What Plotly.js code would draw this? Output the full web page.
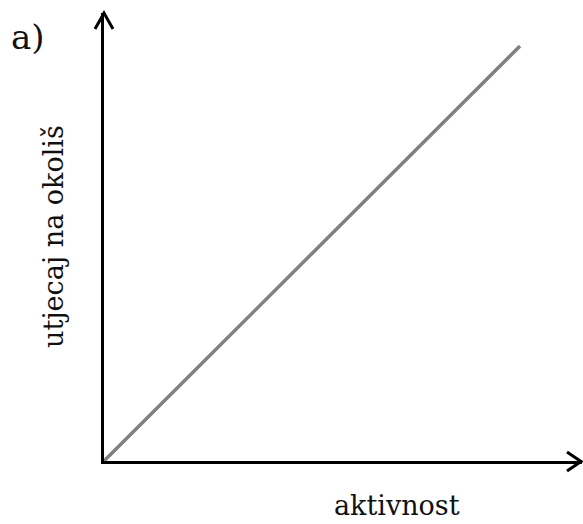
<!DOCTYPE html>
<html><head><meta charset="utf-8">
<script src="https://cdn.plot.ly/plotly-3.0.1.min.js"></script>
<style>html,body{margin:0;padding:0;background:#fff;}</style>
</head><body>
<div id="chart" style="width:583px;height:524px;"></div>
<script>
const activity = [0, 1];
const impact = [0, 1];
const xLabel = "aktivnost";
const yLabel = "utjecaj na okoliš";
const panelLabel = "a)";

const W = 583, H = 524;
const L = 104, R = 1, T = 13, B = 63;
const pw = W - L - R, ph = H - T - B;
const px = x => (x - L) / pw;
const py = y => (H - B - y) / ph;

const font = {family: "'DejaVu Serif', serif", size: 27, color: "#111"};

const trace = {
  x: activity, y: impact, mode: "lines", type: "scatter",
  line: {color: "#808080", width: 3.5}, hoverinfo: "skip"
};

const layout = {
  width: W, height: H,
  margin: {l: L, r: R, t: T, b: B, pad: 0},
  paper_bgcolor: "#fff", plot_bgcolor: "#fff",
  showlegend: false,
  xaxis: {range: [0, pw / 416], showgrid: false, zeroline: false, showticklabels: false,
          ticks: "", showline: true, linecolor: "#000", linewidth: 3, fixedrange: true},
  yaxis: {range: [0, ph / 415], showgrid: false, zeroline: false, showticklabels: false,
          ticks: "", showline: true, linecolor: "#000", linewidth: 3, fixedrange: true},
  shapes: [
    {type: "path", xref: "paper", yref: "paper",
     path: `M ${px(95)},${py(29)} L ${px(104)},${py(13)} L ${px(113)},${py(29)}`,
     line: {color: "#000", width: 3}},
    {type: "path", xref: "paper", yref: "paper",
     path: `M ${px(567)},${py(452)} L ${px(581)},${py(461.5)} L ${px(567)},${py(471)}`,
     line: {color: "#000", width: 3}}
  ],
  annotations: [
    {text: panelLabel, xref: "paper", yref: "paper", x: px(28), y: py(37),
     xanchor: "center", yanchor: "middle", showarrow: false,
     font: Object.assign({}, font, {size: 34})},
    {text: yLabel, xref: "paper", yref: "paper", x: px(53), y: py(237), textangle: -90,
     xanchor: "center", yanchor: "middle", showarrow: false, font: font},
    {text: xLabel, xref: "paper", yref: "paper", x: px(397), y: py(523),
     xanchor: "center", yanchor: "bottom", showarrow: false, font: font}
  ]
};

Plotly.newPlot("chart", [trace], layout, {displayModeBar: false, staticPlot: true});
</script>
</body></html>
